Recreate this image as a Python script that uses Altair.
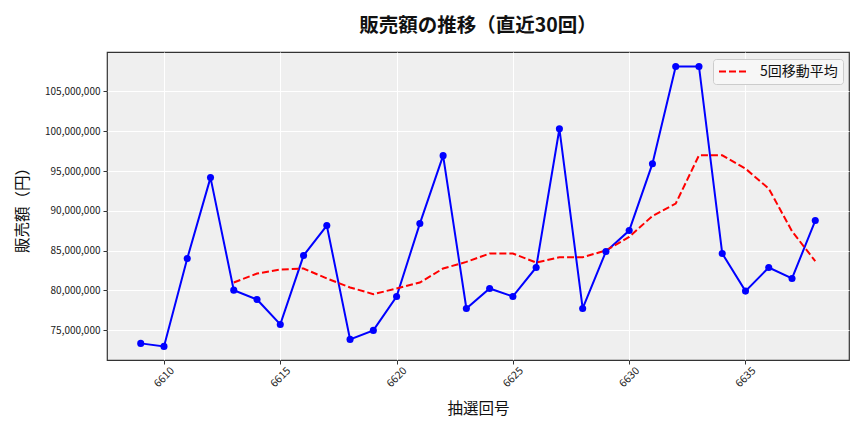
import altair as alt
import pandas as pd

draws = list(range(6609, 6639))
sales = [73.33, 72.95, 84.00, 94.17, 80.02, 78.85, 75.71, 84.37, 88.14, 73.83,
         74.96, 79.23, 88.39, 96.93, 77.72, 80.23, 79.23, 82.87, 100.31, 77.72,
         84.88, 87.51, 95.92, 108.14, 108.14, 84.63, 79.90, 82.87, 81.49, 88.77]
ma_draws = list(range(6613, 6639))
ma5 = [80.98, 82.11, 82.61, 82.74, 81.49, 80.36, 79.52, 80.23, 80.98, 82.74,
       83.57, 84.63, 84.63, 83.49, 84.16, 84.16, 85.00, 86.71, 89.35, 90.90,
       96.97, 96.97, 95.30, 92.79, 87.43, 83.66]

x_ticks = [6610, 6615, 6620, 6625, 6630, 6635]
y_ticks = [75e6, 80e6, 85e6, 90e6, 95e6, 100e6, 105e6]

df = pd.DataFrame({"draw": draws, "sales": [v * 1e6 for v in sales]})
dma = pd.DataFrame({"draw": ma_draws, "ma": [v * 1e6 for v in ma5],
                    "series": ["5回移動平均"] * len(ma_draws)})

FONT = "Noto Sans CJK JP"

xscale = alt.Scale(domain=[6607.55, 6639.45], nice=False, zero=False)
yscale = alt.Scale(domain=[71.24e6, 109.96e6], nice=False, zero=False)

xaxis = alt.Axis(title="抽選回号", values=x_ticks, format="d", labelAngle=-45,
                 labelAlign="center", labelBaseline="middle", labelFontSize=10.5,
                 titleFontSize=15.5, titlePadding=12, grid=True, gridColor="white",
                 domain=False, tickColor="#333", tickSize=4, labelColor="#222",
                 labelFont=FONT, titleFont=FONT, titleFontWeight="normal",
                 titleColor="#111", labelPadding=13)
yaxis = alt.Axis(title="販売額（円）", values=y_ticks, format=",d", labelFontSize=10,
                 titleFontSize=15.5, titlePadding=14, grid=True, gridColor="white",
                 domain=False, tickColor="#333", tickSize=4, labelColor="#222",
                 labelFont=FONT, titleFont=FONT, titleFontWeight="normal",
                 titleColor="#111", labelPadding=3)

base_line = alt.Chart(df).mark_line(color="#0000ff", strokeWidth=2).encode(
    x=alt.X("draw:Q", scale=xscale, axis=xaxis),
    y=alt.Y("sales:Q", scale=yscale, axis=yaxis),
)
pts = alt.Chart(df).mark_circle(color="#0000ff", size=50, opacity=1).encode(
    x=alt.X("draw:Q", scale=xscale),
    y=alt.Y("sales:Q", scale=yscale),
)
ma_line = alt.Chart(dma).mark_line(strokeWidth=2, strokeDash=[7, 3]).encode(
    x=alt.X("draw:Q", scale=xscale),
    y=alt.Y("ma:Q", scale=yscale),
    color=alt.Color("series:N", scale=alt.Scale(domain=["5回移動平均"], range=["#ff0000"]),
                    legend=alt.Legend(title=None, orient="none", legendX=606, legendY=7,
                                      symbolType="stroke", symbolStrokeWidth=2,
                                      symbolDash=[7, 3], symbolSize=729, clipHeight=15,
                                      labelFontSize=14, labelFont=FONT, labelColor="#111",
                                      labelOffset=13,
                                      fillColor="#f7f7f7", strokeColor="#cccccc",
                                      cornerRadius=3, padding=5, rowPadding=0)),
)

chart = alt.layer(base_line, ma_line, pts).properties(
    width=742, height=308,
    title=alt.TitleParams("販売額の推移（直近30回）", fontSize=19.5, font=FONT,
                          fontWeight="bold", anchor="middle", offset=16, color="#111"),
    autosize=alt.AutoSizeParams(type="none"),
    padding={"left": 107, "top": 52, "right": 15, "bottom": 72},
    background="white",
).configure_view(fill="#efefef", stroke="#333", strokeWidth=1.2)

chart.save("out.html", embed_options={"renderer": "svg", "actions": False})
